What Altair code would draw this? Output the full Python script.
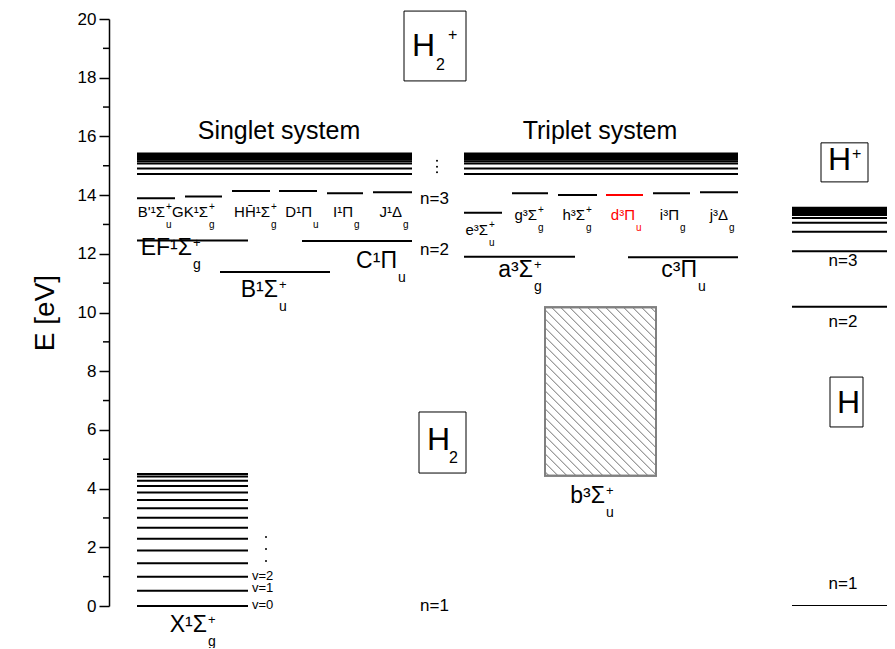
import altair as alt
import pandas as pd

# ---------------- data (energies in eV, horizontal units = figure pixels) ----------------
PLOT_W, PLOT_H = 778, 587
X_DOMAIN = [109, 887]

# Rydberg series converging to the H2+ limit
singlet_series = [14.72, 14.91, 15.08, 15.15, 15.21, 15.26, 15.30, 15.33, 15.36, 15.38, 15.40, 15.42]
triplet_series = [14.72, 14.91, 15.08, 15.15, 15.21, 15.26, 15.30, 15.33, 15.36, 15.38, 15.40, 15.42]
# X 1Sigma_g+ vibrational levels v = 0..14
x_state_levels = [0.00, 0.52, 1.00, 1.46, 1.89, 2.29, 2.67, 3.01, 3.33, 3.61, 3.87, 4.09, 4.27, 4.41, 4.50]
# atomic hydrogen levels n = 1, 2, 3, ...
h_levels = [0.00, 10.20, 12.09, 12.75, 13.06, 13.22, 13.32, 13.39, 13.43, 13.46, 13.49,
            13.51, 13.52, 13.53, 13.54, 13.55, 13.56, 13.57]

singlet_E = [13.89, 13.95, 14.14, 14.14, 14.06, 14.10, 12.45, 12.44, 11.38]
singlet_x1 = [137, 185, 232, 279, 327, 373, 137, 302, 220]
singlet_x2 = [175, 222, 270, 317, 363, 412, 248, 412, 330]

triplet_E = [13.40, 14.06, 14.00, 14.00, 14.06, 14.10, 11.90, 11.88]
triplet_x1 = [464, 512, 558, 606, 653, 700, 464, 628]
triplet_x2 = [502, 548, 597, 643, 690, 738, 575, 738]
triplet_color = ["black", "black", "black", "red", "black", "black", "black", "black"]

b_state_E = [4.44, 10.18]
b_state_x = [545, 656]

# column extents
SINGLET_SPAN = [137, 412]
TRIPLET_SPAN = [464, 738]
X_SPAN = [137, 248]
H_SPAN = [792, 895]

# state labels: main text, superscript, subscript, anchor x, baseline energy, colour
small_main = ["B'¹Σ", "GK¹Σ", "HH̄¹Σ", "D¹Π", "I¹Π", "J¹Δ", "e³Σ", "g³Σ", "h³Σ", "d³Π", "i³Π", "j³Δ"]
small_sup = ["+", "+", "+", "", "", "", "+", "+", "+", "", "", ""]
small_sub = ["u", "g", "g", "u", "g", "g", "u", "g", "g", "u", "g", "g"]
small_x = [165, 208, 270, 312, 353, 402, 488, 537, 585, 635, 679, 728]
small_E = [13.26, 13.26, 13.26, 13.26, 13.26, 13.26, 12.64, 13.15, 13.15, 13.15, 13.15, 13.15]
small_color = ["black"] * 9 + ["red", "black", "black"]

big_main = ["EF¹Σ", "C¹Π", "B¹Σ", "a³Σ", "c³Π", "X¹Σ", "b³Σ"]
big_sup = ["+", "", "+", "+", "", "+", "+"]
big_sub = ["g", "u", "u", "g", "u", "g", "u"]
big_x = [192, 397, 278, 533, 697, 207, 605]
big_E = [11.96, 11.52, 10.53, 11.22, 11.22, -0.90, 3.51]

# plain annotations
note_text = ["n=3", "n=2", "n=1", "n=3", "n=2", "n=1"]
note_x = [420, 420, 420, 843, 843, 843]
note_E = [13.87, 12.13, 0.0, 11.76, 9.69, 0.75]
note_align = ["left", "left", "left", "center", "center", "center"]

v_text = ["v=0", "v=1", "v=2"]
v_x = [252, 252, 252]
v_E = [0.02, 0.60, 1.01]

system_text = ["Singlet system", "Triplet system"]
system_x = [279, 600]
system_E = [16.18, 16.18]

dots_x = [266, 266, 266, 437, 437, 437]
dots_E = [2.35, 1.94, 1.53, 15.17, 14.97, 14.78]

# species boxes
box_x1 = [404, 419, 821, 830]
box_x2 = [466, 466, 868, 863]
box_E1 = [17.89, 4.53, 14.45, 6.10]
box_E2 = [20.27, 6.61, 15.78, 7.80]
box_big_text = ["H", "H", "H", "H"]
box_big_x = [412, 427, 828, 837]
box_big_E = [18.74, 5.32, 14.84, 6.58]
box_small_text = ["2", "+", "2", "+"]
box_small_x = [436, 448, 449, 852]
box_small_E = [18.26, 19.28, 4.87, 15.22]

minor_ticks = [1, 3, 5, 7, 9, 11, 13, 15, 17, 19]

FONT = "Liberation Sans"

# ---------------- tables ----------------
rows = []
for e in singlet_series:
    rows.append(dict(x1=SINGLET_SPAN[0], x2=SINGLET_SPAN[1], E=e, c="black"))
for e in triplet_series:
    rows.append(dict(x1=TRIPLET_SPAN[0], x2=TRIPLET_SPAN[1], E=e, c="black"))
for e in x_state_levels:
    rows.append(dict(x1=X_SPAN[0], x2=X_SPAN[1], E=e, c="black"))
for e, a, b in zip(singlet_E, singlet_x1, singlet_x2):
    rows.append(dict(x1=a, x2=b, E=e, c="black"))
for e, a, b, c in zip(triplet_E, triplet_x1, triplet_x2, triplet_color):
    rows.append(dict(x1=a, x2=b, E=e, c=c))
levels = pd.DataFrame(rows)
hlev = pd.DataFrame(dict(x1=H_SPAN[0], x2=H_SPAN[1], E=h_levels))

small = pd.DataFrame(dict(main=small_main, sup=small_sup, sub=small_sub, x=small_x, E=small_E, c=small_color))
big = pd.DataFrame(dict(main=big_main, sup=big_sup, sub=big_sub, x=big_x, E=big_E))
notes = pd.DataFrame(dict(t=note_text, x=note_x, E=note_E, al=note_align))
vlab = pd.DataFrame(dict(t=v_text, x=v_x, E=v_E))
systems = pd.DataFrame(dict(t=system_text, x=system_x, E=system_E))
dots = pd.DataFrame(dict(x=dots_x, E=dots_E))
boxes = pd.DataFrame(dict(x1=box_x1, x2=box_x2, E1=box_E1, E2=box_E2))
boxbig = pd.DataFrame(dict(t=box_big_text, x=box_big_x, E=box_big_E))
boxsmall = pd.DataFrame(dict(t=box_small_text, x=box_small_x, E=box_small_E))
minor = pd.DataFrame(dict(E=minor_ticks))
bbox = pd.DataFrame(dict(x1=[b_state_x[0]], x2=[b_state_x[1]], E1=[b_state_E[0]], E2=[b_state_E[1]]))

# hatch lines of the b-state continuum, derived from the box, drawn at 45 degrees on screen
px_per_ev = PLOT_H / 20.0
u0, u1 = b_state_x
w0, w1 = b_state_E[0] * px_per_ev, b_state_E[1] * px_per_ev
hatch_rows = []
c = w0 + u0 + 4
while c < w1 + u1:
    ua = max(u0, c - w1)
    ub = min(u1, c - w0)
    if ub > ua:
        hatch_rows.append(dict(x1=ua, x2=ub, E1=(c - ua) / px_per_ev, E2=(c - ub) / px_per_ev))
    c += 9
hatch = pd.DataFrame(hatch_rows)

# ---------------- encodings ----------------
xscale = alt.Scale(domain=X_DOMAIN, nice=False, zero=False)
yscale = alt.Scale(domain=[0, 20], nice=False, zero=False)
yaxis = alt.Axis(values=list(range(0, 21, 2)), format="d", tickSize=10, tickWidth=1.5,
                 tickColor="black", domainColor="black", domainWidth=1.5,
                 labelFont=FONT, labelFontSize=17, labelColor="black", labelPadding=3,
                 title="E [eV]", titleFont=FONT, titleFontSize=28, titleFontWeight="normal",
                 titleColor="black", titleAngle=-90, titleX=-64, titleY=PLOT_H / 2,
                 titleAlign="center", titleBaseline="middle", grid=False)


def X(f):
    return alt.X(f"{f}:Q", scale=xscale, axis=None)


def Y(f):
    return alt.Y(f"{f}:Q", scale=yscale, axis=yaxis)


lev_layer = alt.Chart(levels).mark_rule(strokeWidth=2).encode(
    x=X("x1"), x2="x2", y=Y("E"), color=alt.Color("c:N", scale=None))
h_layer = alt.Chart(hlev).mark_rule(strokeWidth=2, color="black", clip=True).encode(
    x=X("x1"), x2="x2", y=Y("E"))
minor_layer = alt.Chart(minor).mark_rule(strokeWidth=1.5, color="black").encode(
    x=alt.value(-6), x2=alt.value(0), y=Y("E"))

bbox_layer = alt.Chart(bbox).mark_rect(fill="white", stroke="#808080", strokeWidth=2).encode(
    x=X("x1"), x2="x2", y=Y("E1"), y2="E2")
hatch_layer = alt.Chart(hatch).mark_rule(strokeWidth=1, color="#707070").encode(
    x=X("x1"), x2="x2", y=Y("E1"), y2="E2")
bbox_edge = alt.Chart(bbox).mark_rect(fillOpacity=0, stroke="#808080", strokeWidth=2).encode(
    x=X("x1"), x2="x2", y=Y("E1"), y2="E2")

box_layer = alt.Chart(boxes).mark_rect(fill="white", stroke="black", strokeWidth=1).encode(
    x=X("x1"), x2="x2", y=Y("E1"), y2="E2")
boxbig_layer = alt.Chart(boxbig).mark_text(font=FONT, fontSize=32, align="left", baseline="alphabetic").encode(
    x=X("x"), y=Y("E"), text="t:N")
boxsmall_layer = alt.Chart(boxsmall).mark_text(font=FONT, fontSize=16, align="left", baseline="alphabetic").encode(
    x=X("x"), y=Y("E"), text="t:N")


def label_layers(df, size, sup_size, sup_dy, sub_size, sub_dy, colored):
    col = alt.Color("c:N", scale=None) if colored else alt.value("black")
    base = alt.Chart(df)
    main = base.mark_text(font=FONT, fontSize=size, align="right", baseline="alphabetic").encode(
        x=X("x"), y=Y("E"), text="main:N", color=col)
    sup = base.mark_text(font=FONT, fontSize=sup_size, align="left", baseline="alphabetic", dx=1, dy=sup_dy).encode(
        x=X("x"), y=Y("E"), text="sup:N", color=col)
    sub = base.mark_text(font=FONT, fontSize=sub_size, align="left", baseline="alphabetic", dx=1, dy=sub_dy).encode(
        x=X("x"), y=Y("E"), text="sub:N", color=col)
    return [main, sup, sub]


small_layers = label_layers(small, 15, 10, -7, 10, 11, True)
big_layers = label_layers(big, 23, 13, -8, 14, 14, False)

notes_left = alt.Chart(notes).transform_filter("datum.al == 'left'").mark_text(
    font=FONT, fontSize=17, align="left", baseline="middle").encode(x=X("x"), y=Y("E"), text="t:N")
notes_center = alt.Chart(notes).transform_filter("datum.al == 'center'").mark_text(
    font=FONT, fontSize=17, align="center", baseline="middle").encode(x=X("x"), y=Y("E"), text="t:N")
v_layer = alt.Chart(vlab).mark_text(font=FONT, fontSize=13, align="left", baseline="middle").encode(
    x=X("x"), y=Y("E"), text="t:N")
sys_layer = alt.Chart(systems).mark_text(font=FONT, fontSize=25, align="center", baseline="middle").encode(
    x=X("x"), y=Y("E"), text="t:N")
dots_layer = alt.Chart(dots).mark_circle(size=4, color="black", opacity=1).encode(x=X("x"), y=Y("E"))

chart = alt.layer(
    lev_layer, h_layer, minor_layer,
    bbox_layer, hatch_layer, bbox_edge,
    box_layer, boxbig_layer, boxsmall_layer,
    *small_layers, *big_layers,
    notes_left, notes_center, v_layer, sys_layer, dots_layer,
).properties(
    width=PLOT_W, height=PLOT_H,
    autosize=alt.AutoSizeParams(type="none"),
    padding={"left": 101, "top": 11, "right": 0, "bottom": 42},
).configure_view(stroke=None).configure_text(font=FONT)

chart.save("out.html", embed_options={"renderer": "svg", "actions": False})
